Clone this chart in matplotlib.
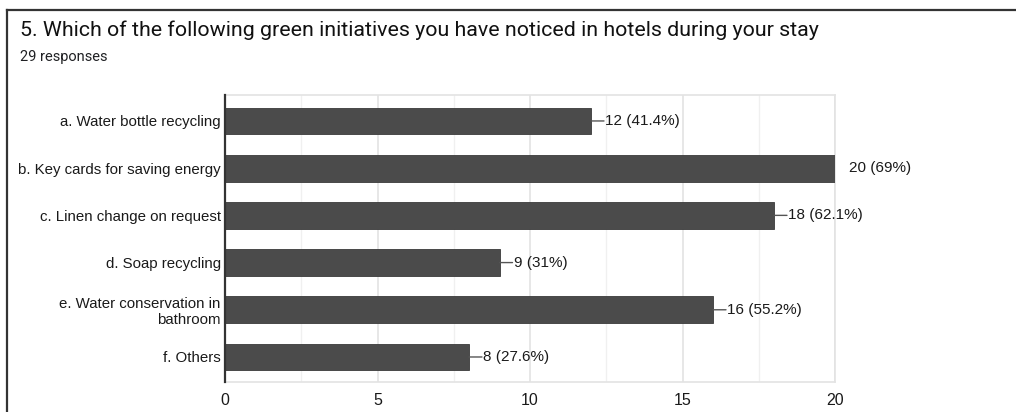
import matplotlib
matplotlib.use("Agg")
import matplotlib.pyplot as plt
from matplotlib.lines import Line2D

# ── data ─────────────────────────────────────────────
TITLE     = "5. Which of the following green initiatives you have noticed in hotels during your stay"
SUBTITLE  = "29 responses"
OPTIONS   = [
    "a. Water bottle recycling",
    "b. Key cards for saving energy",
    "c. Linen change on request",
    "d. Soap recycling",
    "e. Water conservation in\nbathroom",
    "f. Others",
]
COUNTS    = [12, 20, 18, 9, 16, 8]
PERCENTS  = ["41.4%", "69%", "62.1%", "31%", "55.2%", "27.6%"]
XTICKS    = [0, 5, 10, 15, 20]

BAR_COL  = "#4b4b4b"
TEXT_COL = "#1a1a1a"
GRID_COL = "#e3e3e3"

fig = plt.figure(figsize=(10.16, 4.12), dpi=100, facecolor="white")

# outer frame (top and left edges only; the rest runs off the page)
fig.add_artist(Line2D([7/1016, 1.0], [1 - 10/412, 1 - 10/412],
                      transform=fig.transFigure, color="#333333", lw=1.6))
fig.add_artist(Line2D([7/1016, 7/1016], [0.0, 1 - 10/412],
                      transform=fig.transFigure, color="#333333", lw=1.6))

fig.text(20/1016, 1 - 30/412, TITLE, fontsize=15.4, family="Roboto",
         color="#111111", va="center", ha="left")
fig.text(20/1016, 1 - 57/412, SUBTITLE, fontsize=10.5, family="Roboto",
         color="#202124", va="center", ha="left")

ax = fig.add_axes([225/1016, 30/412, 610/1016, 287/412])
ypos = list(range(len(OPTIONS)))
ax.barh(ypos, COUNTS, height=0.57, color=BAR_COL, edgecolor="#3a3a3a",
        linewidth=0.6, zorder=3)

ax.set_xlim(0, 20)
ax.set_ylim(len(OPTIONS) - 0.47, -0.55)
ax.set_xticks(XTICKS)
ax.set_xticklabels([str(t) for t in XTICKS], family="Liberation Sans",
                   fontsize=11.5, color=TEXT_COL)
ax.set_xticks([2.5, 7.5, 12.5, 17.5], minor=True)
ax.set_yticks(ypos)
ax.set_yticklabels(OPTIONS, family="Liberation Sans", fontsize=10.8,
                   color=TEXT_COL)
ax.tick_params(axis="both", which="both", length=0)
ax.tick_params(axis="x", pad=8)
ax.tick_params(axis="y", pad=3)

ax.grid(axis="x", which="major", color=GRID_COL, lw=1.2, zorder=0)
ax.grid(axis="x", which="minor", color="#f0f0f0", lw=1.0, zorder=0)
for side in ["top", "right", "bottom"]:
    ax.spines[side].set_color(GRID_COL)
    ax.spines[side].set_linewidth(1.2)
ax.spines["left"].set_color("#333333")
ax.spines["left"].set_linewidth(1.6)
ax.spines["left"].set_zorder(4)

for i, (v, p) in enumerate(zip(COUNTS, PERCENTS)):
    if v < 20:
        ax.annotate("", xy=(v, i), xytext=(13, 0), textcoords="offset pixels",
                    arrowprops=dict(arrowstyle="-", color="#555555", lw=1.0,
                                    shrinkA=0, shrinkB=0), annotation_clip=False)
    ax.annotate(f"{v} ({p})", xy=(v, i), xytext=(14, 0),
                textcoords="offset pixels", va="center", ha="left",
                family="Liberation Sans", fontsize=11, color=TEXT_COL,
                annotation_clip=False)

plt.savefig("out.png", dpi=100, facecolor="white")
plt.close()
